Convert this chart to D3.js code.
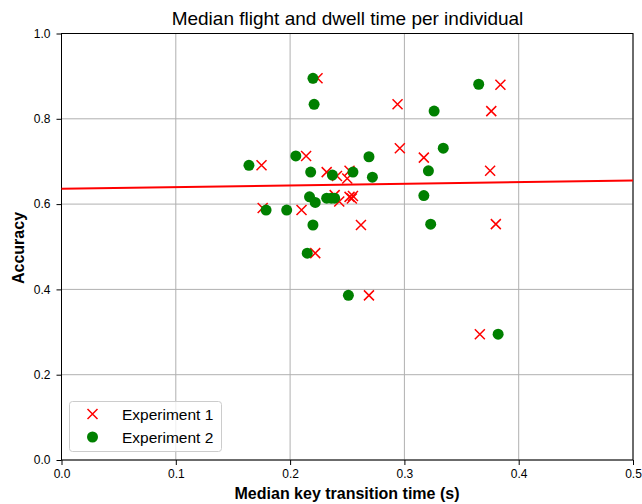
<!DOCTYPE html>
<html>
<head>
<meta charset="utf-8">
<script src="https://cdn.jsdelivr.net/npm/d3@7"></script>
<style>
  body { margin: 0; background: #fff; }
  text { font-family: "Liberation Sans", Arial, sans-serif; }
</style>
</head>
<body>
<script>
// Experiment 1 (red crosses)
var exp1X = [0.224, 0.294, 0.384, 0.376, 0.296, 0.317, 0.214, 0.175, 0.232, 0.241, 0.250, 0.252, 0.375,
             0.239, 0.243, 0.252, 0.254, 0.255, 0.176, 0.210, 0.262, 0.380, 0.222, 0.269, 0.366];
var exp1Y = [0.895, 0.834, 0.880, 0.818, 0.731, 0.709, 0.713, 0.691, 0.675, 0.666, 0.660, 0.678, 0.678,
             0.621, 0.606, 0.617, 0.613, 0.619, 0.591, 0.586, 0.551, 0.553, 0.485, 0.386, 0.295];
// Experiment 2 (green dots)
var exp2X = [0.220, 0.221, 0.365, 0.326, 0.334, 0.205, 0.164, 0.218, 0.237, 0.255, 0.269, 0.272, 0.321,
             0.217, 0.222, 0.232, 0.236, 0.239, 0.179, 0.197, 0.220, 0.317, 0.323, 0.215, 0.251, 0.382];
var exp2Y = [0.895, 0.834, 0.881, 0.818, 0.731, 0.713, 0.691, 0.675, 0.668, 0.675, 0.711, 0.663, 0.678,
             0.617, 0.604, 0.614, 0.614, 0.614, 0.586, 0.586, 0.551, 0.620, 0.553, 0.485, 0.386, 0.295];
// fitted line
var fitIntercept = 0.636;
var fitSlope = 0.039;

var xTicks = [0.0, 0.1, 0.2, 0.3, 0.4, 0.5];
var yTicks = [0.0, 0.2, 0.4, 0.6, 0.8, 1.0];
var seriesNames = ["Experiment 1", "Experiment 2"];

var w = 642, h = 504;
var pLeft = 61.5, pRight = 633, pTop = 33.5, pBottom = 460;

var svg = d3.select("body").append("svg")
    .attr("width", w)
    .attr("height", h);

var x = d3.scaleLinear().domain([0, 0.5]).range([pLeft, pRight]);
var y = d3.scaleLinear().domain([0, 1]).range([pBottom, pTop]);

// grid
svg.append("g").selectAll("line")
    .data(xTicks).enter().append("line")
    .attr("x1", function(d) { return x(d); })
    .attr("x2", function(d) { return x(d); })
    .attr("y1", pTop).attr("y2", pBottom)
    .attr("stroke", "#b0b0b0").attr("stroke-width", 1);
svg.append("g").selectAll("line")
    .data(yTicks).enter().append("line")
    .attr("y1", function(d) { return y(d); })
    .attr("y2", function(d) { return y(d); })
    .attr("x1", pLeft).attr("x2", pRight)
    .attr("stroke", "#b0b0b0").attr("stroke-width", 1);

// axes
var xAxis = svg.append("g")
    .attr("transform", "translate(0," + pBottom + ")")
    .call(d3.axisBottom(x).tickValues(xTicks).tickFormat(d3.format(".1f")).tickSize(5).tickPadding(4));
var yAxis = svg.append("g")
    .attr("transform", "translate(" + pLeft + ",0)")
    .call(d3.axisLeft(y).tickValues(yTicks).tickFormat(d3.format(".1f")).tickSize(5).tickPadding(6));
[xAxis, yAxis].forEach(function(a) {
    a.select(".domain").remove();
    a.selectAll("text").style("font-size", "12px").attr("fill", "#000")
        .style("font-family", "'Liberation Sans', Arial, sans-serif");
    a.selectAll("line").attr("stroke", "#000");
});

// frame
svg.append("rect")
    .attr("x", pLeft).attr("y", pTop)
    .attr("width", pRight - pLeft).attr("height", pBottom - pTop)
    .attr("fill", "none").attr("stroke", "#000").attr("stroke-width", 1);

// fit line
svg.append("line")
    .attr("x1", x(0)).attr("y1", y(fitIntercept))
    .attr("x2", x(0.5)).attr("y2", y(fitIntercept + fitSlope * 0.5))
    .attr("stroke", "red").attr("stroke-width", 2);

function cross(g, cx, cy, s) {
    g.append("path")
        .attr("d", "M" + (cx - s) + "," + (cy - s) + "L" + (cx + s) + "," + (cy + s) +
                   "M" + (cx - s) + "," + (cy + s) + "L" + (cx + s) + "," + (cy - s))
        .attr("stroke", "red").attr("stroke-width", 1.5).attr("fill", "none");
}

// experiment 1
var g1 = svg.append("g");
exp1X.forEach(function(d, i) { cross(g1, x(d), y(exp1Y[i]), 5); });

// experiment 2
svg.append("g").selectAll("circle")
    .data(exp2X).enter().append("circle")
    .attr("cx", function(d) { return x(d); })
    .attr("cy", function(d, i) { return y(exp2Y[i]); })
    .attr("r", 5.5)
    .attr("fill", "green");

// title and labels
svg.append("text")
    .attr("x", 347.5).attr("y", 25)
    .attr("text-anchor", "middle")
    .style("font-size", "19px")
    .text("Median flight and dwell time per individual");
svg.append("text")
    .attr("x", 347).attr("y", 499)
    .attr("text-anchor", "middle")
    .style("font-size", "16px").style("font-weight", "bold")
    .text("Median key transition time (s)");
svg.append("text")
    .attr("transform", "translate(24,248) rotate(-90)")
    .attr("text-anchor", "middle")
    .style("font-size", "16px").style("font-weight", "bold")
    .text("Accuracy");

// legend
var lg = svg.append("g");
lg.append("rect")
    .attr("x", 69.5).attr("y", 401.5).attr("width", 152).attr("height", 50)
    .attr("rx", 3).attr("fill", "#fff").attr("fill-opacity", 0.8)
    .attr("stroke", "#ccc");
cross(lg, 92.5, 414, 5);
lg.append("circle").attr("cx", 92.5).attr("cy", 437).attr("r", 5.5).attr("fill", "green");
seriesNames.forEach(function(n, i) {
    lg.append("text")
        .attr("x", 122).attr("y", 419.5 + i * 23)
        .style("font-size", "15.5px")
        .text(n);
});
</script>
</body>
</html>
